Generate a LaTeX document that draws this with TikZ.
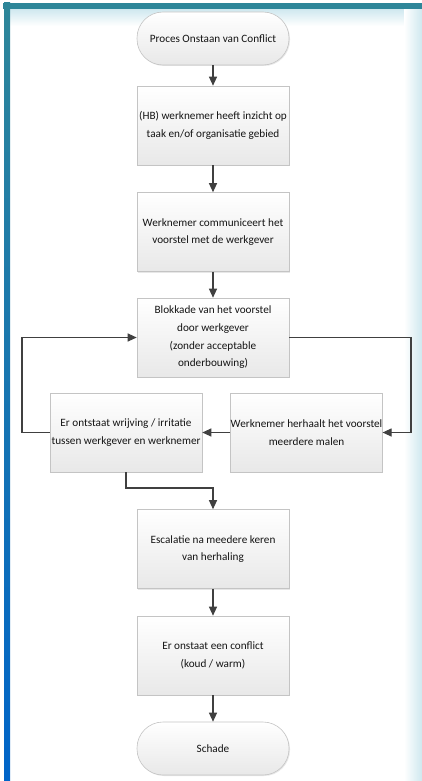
\documentclass[tikz,border=0pt]{standalone}
\usepackage{fontspec}
\setmainfont{Carlito}
\usetikzlibrary{arrows.meta,shadows}

\definecolor{randgrijs}{HTML}{C4C4C4}
\definecolor{pijlgrijs}{HTML}{404040}
\definecolor{teal}{HTML}{2E8699}
\definecolor{cyaan}{HTML}{22C6E2}
\definecolor{diepblauw}{HTML}{0064C8}
\definecolor{gloed}{HTML}{CFE8EF}

\tikzset{
    stap/.style={draw=randgrijs, line width=0.6pt, top color=white, bottom color=black!9,
        minimum width=152pt, minimum height=79pt, inner sep=0pt, align=center,
        text=black!92, font=\fontsize{11.2}{17.7}\selectfont,
        drop shadow={shadow xshift=1pt, shadow yshift=-1pt, fill=black!18}},
    eind/.style={stap, minimum height=53pt, rounded corners=26pt},
    pijl/.style={draw=pijlgrijs, line width=1.1pt, -{Triangle[length=9pt,width=8pt]}},
}

\begin{document}
\begin{tikzpicture}[x=1pt, y=-1pt]
        % frame
        \useasboundingbox (0,0) rectangle (422,781);
        \fill[white] (0,0) rectangle (422,781);
        \shade[top color=gloed, bottom color=white] (10,9) rectangle (422,26);
        \shade[left color=white, right color=gloed] (404,9) rectangle (422,781);
        \fill[teal] (3,3) rectangle (422,9.5);
        \shade[top color=teal, middle color=cyaan, bottom color=diepblauw] (4,3) rectangle (10,781);

        \node[eind] (start) at (213,38.5) {Proces Onstaan van Conflict};
        \node[stap] (inzicht) at (213,125.5) {(HB) werknemer heeft inzicht op\\taak en/of organisatie gebied};
        \node[stap] (voorstel) at (213,232) {Werknemer communiceert het\\voorstel met de werkgever};
        \node[stap] (blokkade) at (213,337.5) {Blokkade van het voorstel\\door werkgever\\(zonder acceptable\\onderbouwing)};
        \node[stap] (wrijving) at (126,432.5) {Er ontstaat wrijving / irritatie\\tussen werkgever en werknemer};
        \node[stap, minimum width=151pt] (herhaling) at (306.5,432.5) {Werknemer herhaalt het voorstel\\meerdere malen};
        \node[stap] (escalatie) at (213,549) {Escalatie na meedere keren\\van herhaling};
        \node[stap] (conflict) at (213,655.5) {Er onstaat een conflict\\(koud / warm)};
        \node[eind] (schade) at (213,748.5) {Schade};

        \coordinate (rechtsboven) at (411,337.5);
        \coordinate (linksonder) at (22,432.5);
        \coordinate (knik) at (126,488);

        \draw[pijl] (start) -- (inzicht);
        \draw[pijl] (inzicht) -- (voorstel);
        \draw[pijl] (voorstel) -- (blokkade);
        \draw[pijl] (blokkade.east) -- (rechtsboven) |- (herhaling.east);
        \draw[pijl] (herhaling.west) -- (wrijving.east);
        \draw[pijl] (wrijving.west) -- (linksonder) |- (blokkade.west);
        \draw[pijl] (wrijving.south) -- (knik) -| (escalatie.north);
        \draw[pijl] (escalatie) -- (conflict);
        \draw[pijl] (conflict) -- (schade);
\end{tikzpicture}
\end{document}
